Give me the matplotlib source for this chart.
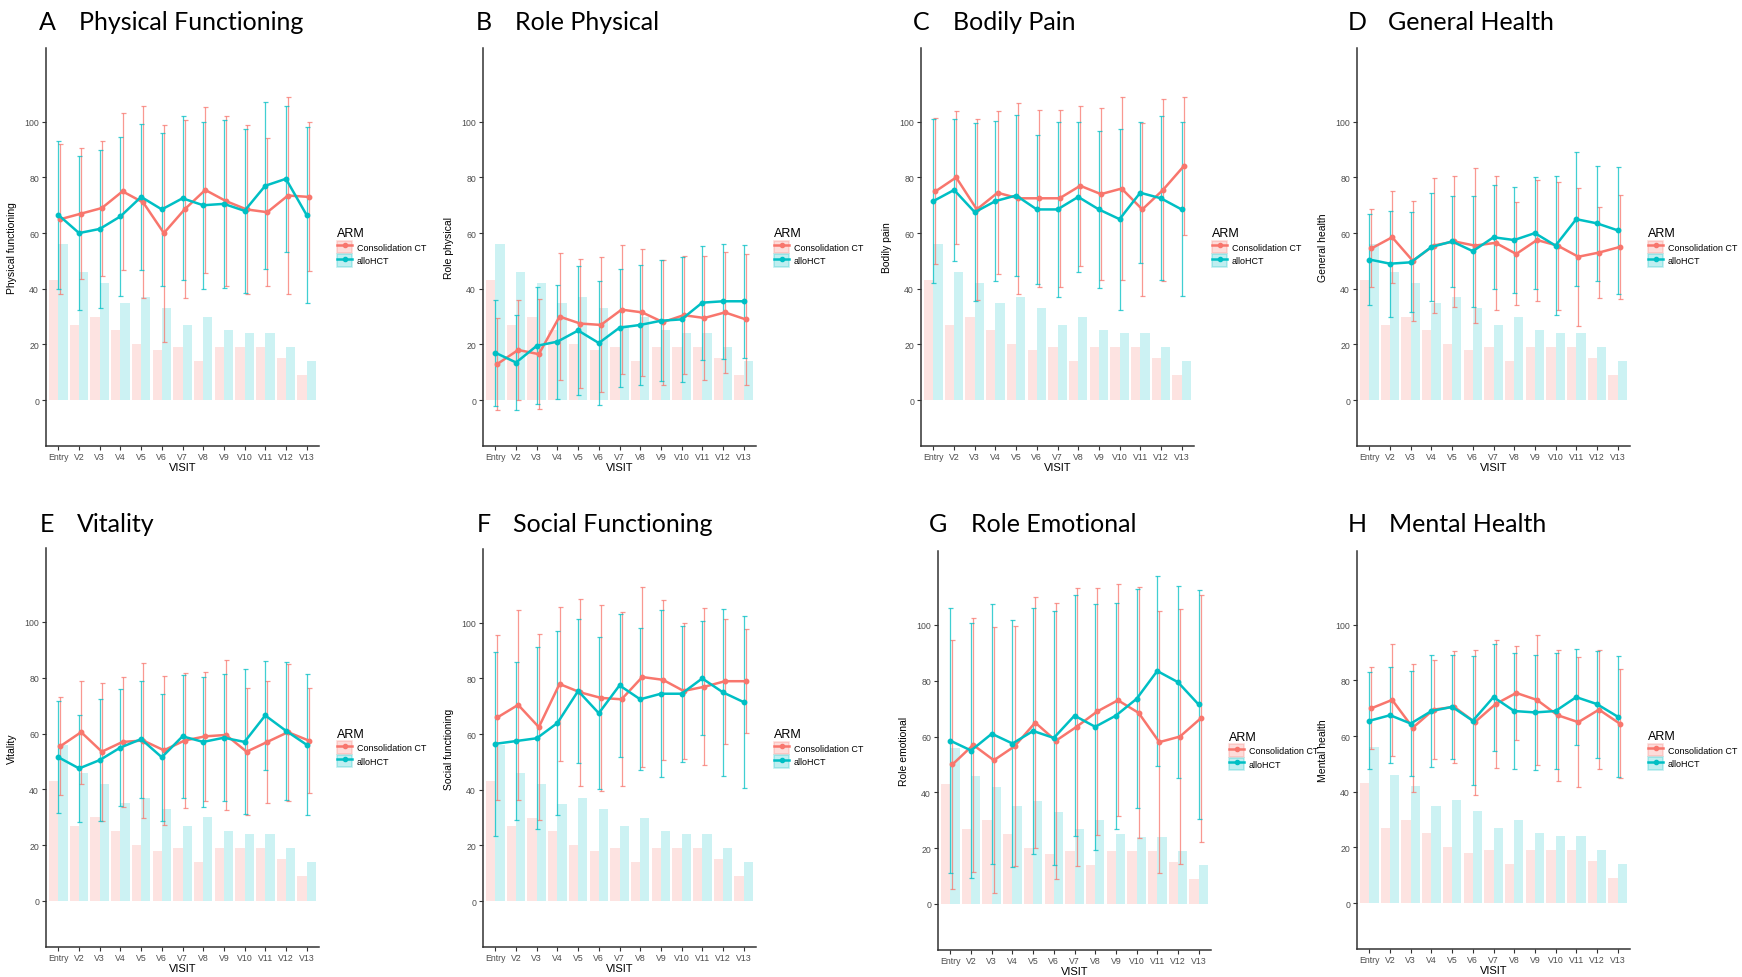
import matplotlib
matplotlib.use("Agg")
import matplotlib.pyplot as plt
from matplotlib.patches import Patch, Rectangle
from matplotlib.lines import Line2D
import numpy as np

visits = ["Entry", "V2", "V3", "V4", "V5", "V6", "V7", "V8", "V9", "V10", "V11", "V12", "V13"]
arms = ["Consolidation CT", "alloHCT"]

# number of patients per visit (background bars)
ct_n = [43, 27, 30, 25, 20, 18, 19, 14, 19, 19, 19, 15, 9]
hct_n = [56, 46, 42, 35, 37, 33, 27, 30, 25, 24, 24, 19, 14]

# mean and SD per domain
pf_ct_mean = [65, 67, 69, 75, 71, 60, 68.5, 75.5, 71.5, 68.5, 67.5, 73.5, 73]
pf_ct_sd = [27, 23.5, 24.25, 28.25, 34.5, 39, 32, 29.75, 30.5, 30.25, 26.5, 35.25, 26.75]
pf_hct_mean = [66.5, 60, 61.5, 66, 73, 68.5, 72.5, 70, 70.5, 68, 77, 79.5, 66.5]
pf_hct_sd = [26.5, 27.75, 28.25, 28.5, 26.25, 27.5, 29.5, 30, 30.25, 29.5, 30, 26.25, 31.5]

rp_ct_mean = [13, 18, 16.5, 30, 27.5, 27, 32.5, 31.5, 28, 30.5, 29.5, 31.5, 29]
rp_ct_sd = [16.5, 18, 19.75, 22.75, 23.25, 24.25, 23.25, 22.75, 22.5, 21.25, 22.25, 21.75, 23.5]
rp_hct_mean = [17, 13.5, 19.5, 21, 25, 20.5, 26, 27, 28.5, 29, 35, 35.5, 35.5]
rp_hct_sd = [19, 17, 21, 20.5, 23.25, 22.25, 21.25, 21.5, 21.75, 22.5, 20.5, 20.75, 20.25]

bp_ct_mean = [75, 80, 68.5, 74.5, 72.5, 72.5, 72.5, 77, 74, 76, 68.5, 75.5, 84]
bp_ct_sd = [26.25, 24, 32.5, 29.25, 34.25, 31.75, 31.75, 28.75, 31, 32.75, 31, 32.75, 24.75]
bp_hct_mean = [71.5, 75.5, 67.5, 71.5, 73.5, 68.5, 68.5, 73, 68.5, 65, 74.5, 72.5, 68.5]
bp_hct_sd = [29.5, 25.5, 32, 28.75, 28.75, 26.75, 31.5, 27, 28.25, 32.5, 25.25, 29.5, 31.25]

gh_ct_mean = [54.5, 58.5, 50, 55.5, 57, 55.5, 56.5, 52.5, 57.5, 55.5, 51.5, 53, 55]
gh_ct_sd = [14, 16.5, 21.5, 24.25, 23.5, 27.75, 24, 18.5, 21.75, 23, 24.75, 16.25, 18.75]
gh_hct_mean = [50.5, 49, 49.5, 55, 57, 53.5, 58.5, 57.5, 60, 55.5, 65, 63.5, 61]
gh_hct_sd = [16.5, 19, 18, 19.25, 16.5, 20, 18.75, 19, 20.25, 25, 24, 20.75, 22.75]

vt_ct_mean = [55.5, 60.5, 53.5, 57, 57.5, 54, 57.5, 59, 59.5, 53.5, 57, 60.5, 57.5]
vt_ct_sd = [17.5, 18.5, 24.75, 23.25, 27.75, 26.75, 24.25, 23, 27, 22.75, 21.75, 24.5, 18.75]
vt_hct_mean = [51.5, 47.5, 50.5, 55, 58, 51.5, 59, 57, 58.5, 57, 66.5, 61, 56]
vt_hct_sd = [20, 19.25, 22, 21, 21, 22.75, 22, 23.25, 22.75, 26, 19.5, 24.75, 25.25]

sf_ct_mean = [66, 70.5, 62.5, 78, 75, 73, 72.5, 80.5, 79.5, 75.5, 77, 79, 79]
sf_ct_sd = [29.75, 34.25, 33.5, 27.5, 33.5, 33.5, 31.25, 32.25, 28.75, 24.5, 28.25, 22.5, 18.75]
sf_hct_mean = [56.5, 57.5, 58.5, 64, 75.5, 67.5, 77.5, 72.5, 74.5, 74.5, 80, 75, 71.5]
sf_hct_sd = [33, 28.5, 32.75, 33, 26, 27.25, 25.75, 25.5, 30, 24.5, 20.5, 30, 31]

re_ct_mean = [50, 57, 51.5, 56.5, 65, 58.5, 63.5, 69, 73, 68.5, 58, 60, 66.5]
re_ct_sd = [44.75, 45.5, 47.75, 43, 45, 49.5, 49.75, 44.25, 41.5, 45, 47, 45.75, 44.25]
re_hct_mean = [58.5, 55, 61, 57.5, 62, 59.5, 67.5, 63.5, 67.5, 73.5, 83.5, 79.5, 71.5]
re_hct_sd = [47.5, 45.75, 46.5, 44.25, 44.25, 45.5, 43.25, 44, 40.5, 39.25, 34, 34.5, 41]

mh_ct_mean = [70, 73, 63, 69.5, 70.5, 65, 71.5, 75.5, 73, 67.5, 65, 69.5, 64.5]
mh_ct_sd = [14.75, 20.25, 23, 17.75, 20.25, 26, 23, 16.75, 23.25, 23.5, 23.25, 21.5, 19.5]
mh_hct_mean = [65.5, 67.5, 64.5, 69, 70.5, 65.5, 74, 69, 68.5, 69, 74, 71.5, 67]
mh_hct_sd = [17.5, 17.25, 19, 20, 18.75, 23.25, 19.25, 20.75, 20.75, 21, 17.25, 19.25, 21.75]

panels = [
    ("A", "Physical Functioning", "Physical functioning", pf_ct_mean, pf_ct_sd, pf_hct_mean, pf_hct_sd),
    ("B", "Role Physical", "Role physical", rp_ct_mean, rp_ct_sd, rp_hct_mean, rp_hct_sd),
    ("C", "Bodily Pain", "Bodily pain", bp_ct_mean, bp_ct_sd, bp_hct_mean, bp_hct_sd),
    ("D", "General Health", "General health", gh_ct_mean, gh_ct_sd, gh_hct_mean, gh_hct_sd),
    ("E", "Vitality", "Vitality", vt_ct_mean, vt_ct_sd, vt_hct_mean, vt_hct_sd),
    ("F", "Social Functioning", "Social functioning", sf_ct_mean, sf_ct_sd, sf_hct_mean, sf_hct_sd),
    ("G", "Role Emotional", "Role emotional", re_ct_mean, re_ct_sd, re_hct_mean, re_hct_sd),
    ("H", "Mental Health", "Mental health", mh_ct_mean, mh_ct_sd, mh_hct_mean, mh_hct_sd),
]

# axes boxes in pixels: left, top, right, bottom
boxes = [(46, 49, 319, 447), (483, 49, 756, 447), (921, 49, 1194, 447), (1357, 49, 1630, 447),
         (46, 549, 319, 948), (483, 550, 756, 948), (938, 552, 1211, 951), (1357, 552, 1630, 950)]
# title positions: letter x, name x, y centre
title_pos = [(39, 79, 23), (476, 515, 23), (913, 953, 23), (1348, 1388, 23),
             (40, 77, 524), (477, 513, 524), (929, 971, 524), (1348, 1389, 524)]

RED = "#F8766D"
TEAL = "#00BFC4"
W, H = 1742, 978

plt.rcParams["font.family"] = ["Liberation Sans", "DejaVu Sans"]
fig = plt.figure(figsize=(W / 100, H / 100), dpi=100)

x = np.arange(len(visits))

for i, (letter, name, ylab, ctm, cts, hm, hs) in enumerate(panels):
    l, t, r, b = boxes[i]
    ax = fig.add_axes([l / W, 1 - b / H, (r - l) / W, (b - t) / H])
    if letter == "H":
        ax.set_zorder(1)

    ax.bar(x - 0.225, ct_n, width=0.45, color=RED, alpha=0.2, linewidth=0, zorder=1)
    ax.bar(x + 0.225, hct_n, width=0.45, color=TEAL, alpha=0.2, linewidth=0, zorder=1)

    ax.errorbar(x + 0.1, ctm, yerr=cts, fmt="none", ecolor=RED, alpha=0.75,
                elinewidth=0.9, capsize=1.8, capthick=0.9, zorder=2)
    ax.errorbar(x, hm, yerr=hs, fmt="none", ecolor=TEAL, alpha=0.75,
                elinewidth=0.9, capsize=1.8, capthick=0.9, zorder=2)
    ax.plot(x + 0.1, ctm, color=RED, lw=1.8, marker="o", ms=3.2, zorder=3)
    ax.plot(x, hm, color=TEAL, lw=1.8, marker="o", ms=3.2, zorder=3)

    ax.set_xlim(-0.6, 12.6)
    ax.set_ylim(-16.5, 126.5)
    ax.set_yticks([0, 20, 40, 60, 80, 100])
    ax.set_xticks(x)
    ax.set_xticklabels(visits)
    for s in ["top", "right"]:
        ax.spines[s].set_visible(False)
    for s in ["left", "bottom"]:
        ax.spines[s].set_color("#333333")
        ax.spines[s].set_linewidth(1.1)
    ax.tick_params(colors="#333333", labelcolor="#4D4D4D", labelsize=6.3, length=3, width=0.8, pad=2)
    ax.tick_params(axis="x", pad=1)
    ax.set_ylabel(ylab, fontsize=7.5, labelpad=5)
    ax.set_xlabel("VISIT", fontsize=8, labelpad=0.8)

    handles = []
    for c in (RED, TEAL):
        box = Patch(facecolor=c, edgecolor=c, alpha=0.25, linewidth=1.2)
        ln = Line2D([], [], color=c, lw=1.8, marker="o", ms=3)
        handles.append((box, ln))
    ax.legend(handles, arms, title="ARM", loc="center left", bbox_to_anchor=(1.066, 0.5),
              frameon=False, fontsize=6.5, title_fontsize=9, handlelength=1.7, handleheight=1.7,
              borderpad=0, borderaxespad=0, labelspacing=0.15, handletextpad=0.5, alignment="left")

    lx, nx, ty = title_pos[i]
    fig.text(lx / W, 1 - ty / H, letter, fontsize=18, family="Lato", va="center")
    fig.text(nx / W, 1 - ty / H, name, fontsize=18, family="Lato", va="center")

# panel H covers the end of panel G's legend text
fig.patches.append(Rectangle((1319 / W, 1 - 775 / H), 40 / W, 35 / H, transform=fig.transFigure,
                             facecolor="white", edgecolor="none", zorder=0.5))

fig.savefig("out.png", dpi=100)
